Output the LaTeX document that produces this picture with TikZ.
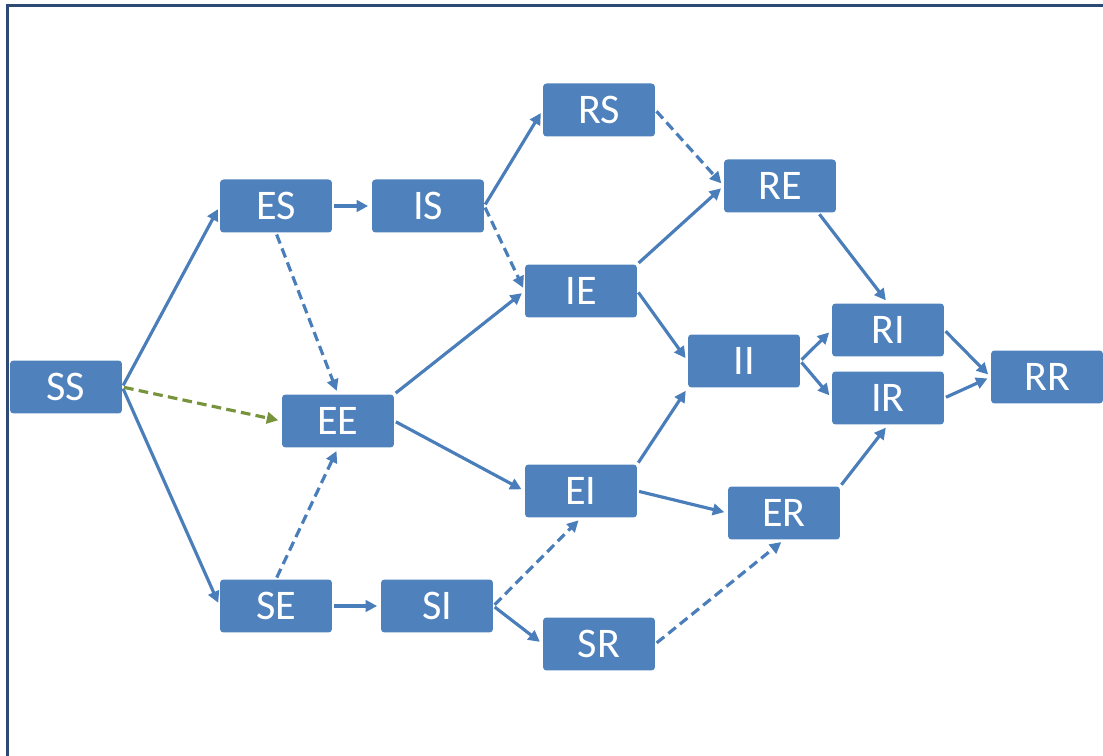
\documentclass[tikz,border=0pt]{standalone}
\usepackage{fontspec}
\setmainfont{Carlito}
\usepackage{xcolor}
\usepackage{tikz}
\usetikzlibrary{arrows.meta}

\definecolor{boxblue}{RGB}{79,129,189}
\definecolor{linkblue}{RGB}{74,126,187}
\definecolor{linkgreen}{RGB}{119,147,60}
\definecolor{framenavy}{RGB}{44,74,116}

\begin{document}
\begin{tikzpicture}[x=0.02cm,y=-0.02cm,
state/.style={fill=boxblue,rectangle,rounded corners=2pt,text=white,
minimum width=2.24cm,minimum height=1.06cm,inner sep=0pt,
font=\fontsize{24}{24}\selectfont},
link/.style={draw=linkblue,line width=1.8pt,
-{Triangle[length=6.5pt,width=6.5pt]},shorten >=2pt,shorten <=1pt},
maybe/.style={link,dash pattern=on 5.5pt off 3pt},
greenlink/.style={maybe,draw=linkgreen,-{Triangle[length=6.5pt,width=6.5pt,fill=linkgreen]}}]
\useasboundingbox (0,0) rectangle (1103,756);
\draw[framenavy,line width=2pt] (7.5,756) -- (7.5,5.5) -- (1103,5.5);

\node[state] (ss) at (66,387) {SS};
\node[state] (es) at (276,206) {ES};
\node[state] (is) at (428,206) {IS};
\node[state] (rs) at (599,110) {RS};
\node[state] (re) at (780,186) {RE};
\node[state] (ie) at (581,291) {IE};
\node[state] (ee) at (338,421) {EE};
\node[state] (ii) at (744,361) {II};
\node[state] (ri) at (888,330) {RI};
\node[state] (ir) at (888,398) {IR};
\node[state] (rr) at (1047,377) {RR};
\node[state] (ei) at (581,491) {EI};
\node[state] (er) at (784,513) {ER};
\node[state] (se) at (276,606) {SE};
\node[state] (si) at (437,606) {SI};
\node[state] (sr) at (599,644) {SR};

\draw[link] (ss.east) -- (es.west);
\draw[link] (ss.east) -- (se.west);
\draw[greenlink] (ss.east) -- (ee.west);
\draw[link] (es.east) -- (is.west);
\draw[maybe] (es.south) -- (ee.north);
\draw[link] (is.east) -- (rs.west);
\draw[maybe] (is.east) -- (ie.west);
\draw[maybe] (rs.east) -- (re.west);
\draw[link] (ie.north east) -- (re.west);
\draw[link] (ie.east) -- (ii.west);
\draw[link] (ee.north east) -- (ie.west);
\draw[link] (ee.east) -- (ei.west);
\draw[link] (ei.north east) -- (ii.south west);
\draw[link] (ei.east) -- (er.west);
\draw[link] (re.-35) -- (ri.north);
\draw[link] (ii.east) -- (ri.west);
\draw[link] (ii.east) -- (ir.west);
\draw[link] (ri.east) -- (rr.west);
\draw[link] (ir.east) -- (rr.west);
\draw[link] (er.north east) -- (ir.south);
\draw[link] (se.east) -- (si.west);
\draw[maybe] (se.north) -- (ee.south);
\draw[maybe] (si.east) -- (ei.south);
\draw[link] (si.east) -- (sr.west);
\draw[maybe] (sr.east) -- (er.south);
\end{tikzpicture}
\end{document}
